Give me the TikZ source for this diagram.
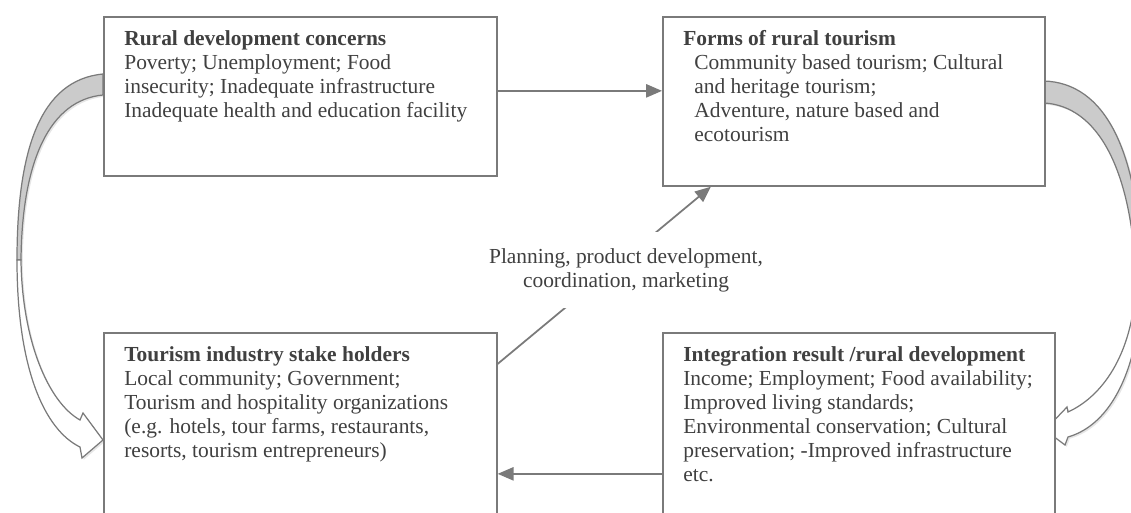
\documentclass[tikz,border=0pt]{standalone}
\usepackage{fontspec}
\setmainfont{Liberation Serif}
\usetikzlibrary{arrows.meta,shadows}
\definecolor{linegray}{HTML}{7A7A7A}
\definecolor{bandgray}{HTML}{CBCBCB}
\definecolor{textgray}{HTML}{404040}

\begin{document}
\begin{tikzpicture}[x=0.02cm, y=-0.02cm,
        box/.style = {draw=linegray, line width=1pt, anchor=north west,
            inner sep=0pt, fill=white},
        txt/.style = {anchor=north west, align=left, text=textgray,
            inner xsep=0.42cm, inner ysep=8pt, font=\fontsize{12.2}{13.7}\selectfont},
        lbl/.style = {align=center, text=textgray, fill=white,
            inner xsep=2pt, inner ysep=0.32cm, font=\fontsize{12.2}{13.7}\selectfont},
        conn/.style = {draw=linegray, line width=1pt,
            -{Triangle[length=9pt,width=7.5pt]}},
        band/.style = {draw=linegray, line width=0.7pt,
            drop shadow={opacity=0.2, shadow xshift=1pt, shadow yshift=-1pt}}]
        \useasboundingbox (0,0) rectangle (1131,513);

        \path[band, fill=bandgray] (103,74) .. controls (40,80) and (17,150) .. (17,260)
            -- (21,260) .. controls (22,160) and (50,100) .. (103,95) -- cycle;
        \path[band, fill=white] (17,260) .. controls (17,370) and (45,430) .. (80,447)
            -- (82,458) -- (103,440) -- (83,413) -- (80,420)
            .. controls (48,402) and (22,340) .. (21,260) -- cycle;
        \path[band, fill=bandgray] (1044,81) .. controls (1105,83) and (1138,150) .. (1142,270)
            -- (1136,280) .. controls (1132,170) and (1098,106) .. (1044,103) -- cycle;
        \path[band, fill=white] (1142,270) .. controls (1142,370) and (1110,425) .. (1068,437)
            -- (1065,445) -- (1045,430) -- (1067,407) -- (1068,412)
            .. controls (1105,395) and (1134,350) .. (1136,280) -- cycle;

        \node[box, minimum width=7.86cm, minimum height=3.18cm] (rural) at (103,16) {};
        \node[box, minimum width=7.64cm, minimum height=3.38cm] (forms) at (662,16) {};
        \node[box, minimum width=7.86cm, minimum height=4.16cm] (stake) at (103,332) {};
        \node[box, minimum width=7.84cm, minimum height=4.16cm] (result) at (662,332) {};

        \node[txt] (ruraltxt) at (rural.north west) {\textbf{Rural development concerns}\\
            Poverty; Unemployment; Food\\
            insecurity; Inadequate infrastructure\\
            Inadequate health and education facility};
        \node[txt] (formstxt) at (forms.north west) {\textbf{Forms of rural tourism}\\
            \hspace*{0.22cm}Community based tourism; Cultural\\
            \hspace*{0.22cm}and heritage tourism;\\
            \hspace*{0.22cm}Adventure, nature based and\\
            \hspace*{0.22cm}ecotourism};
        \node[txt] (staketxt) at (stake.north west) {\textbf{Tourism industry stake holders}\\
            Local community; Government;\\
            Tourism and hospitality organizations\\
            (e.g. hotels, tour farms, restaurants,\\
            resorts, tourism entrepreneurs)};
        \node[txt] (resulttxt) at (result.north west) {\textbf{Integration result /rural development}\\
            Income; Employment; Food availability;\\
            Improved living standards;\\
            Environmental conservation; Cultural\\
            preservation; -Improved infrastructure\\
            etc.};

        \draw[conn] ([yshift=0.11cm]rural.east) -- ([yshift=0.11cm]rural.east -| forms.west);
        \draw[conn] ([yshift=-0.74cm]result.west) -- ([yshift=-0.74cm]result.west -| stake.east);
        \draw[conn] ([yshift=1.46cm]stake.east) -- ([xshift=-2.86cm]forms.south);
        \node[lbl] (plan) at (626,270) {Planning, product development,\\coordination, marketing};
    \end{tikzpicture}
\end{document}
